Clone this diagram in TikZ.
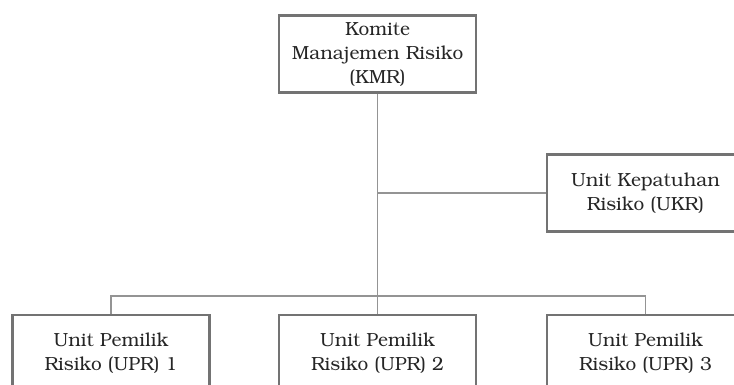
\documentclass[tikz,border=0pt]{standalone}
\usepackage[T1]{fontenc}
\usepackage{bookman}
\begin{document}
\begin{tikzpicture}[x=1pt, y=-1pt,
		unit/.style={draw=black!55, line width=2.2pt, minimum width=197pt, minimum height=77pt, inner sep=0pt, align=center, text=black!85, font=\fontsize{19}{24}\selectfont},
		link/.style={draw=black!42, line width=1.5pt}]
		\useasboundingbox (0,0) rectangle (734,385);
		\node [unit] (kmr) at (377.5, 54) {Komite\\Manajemen Risiko\\(KMR)};
		\node [unit] (ukr) at (645.5, 193) {Unit Kepatuhan\\Risiko (UKR)};
		\node [unit] (upr1) at (111, 353.5) {Unit Pemilik\\Risiko (UPR) 1};
		\node [unit] (upr2) at (377.5, 353.5) {Unit Pemilik\\Risiko (UPR) 2};
		\node [unit] (upr3) at (645.5, 353.5) {Unit Pemilik\\Risiko (UPR) 3};
		\coordinate (bus) at (377.5, 296);
		\draw [link] (kmr.south) to (upr2.north);
		\draw [link] (kmr.south |- ukr.west) to (ukr.west);
		\draw [link] (upr1.north) -- (upr1.north |- bus) -- (upr3.north |- bus) -- (upr3.north);
\end{tikzpicture}
\end{document}
